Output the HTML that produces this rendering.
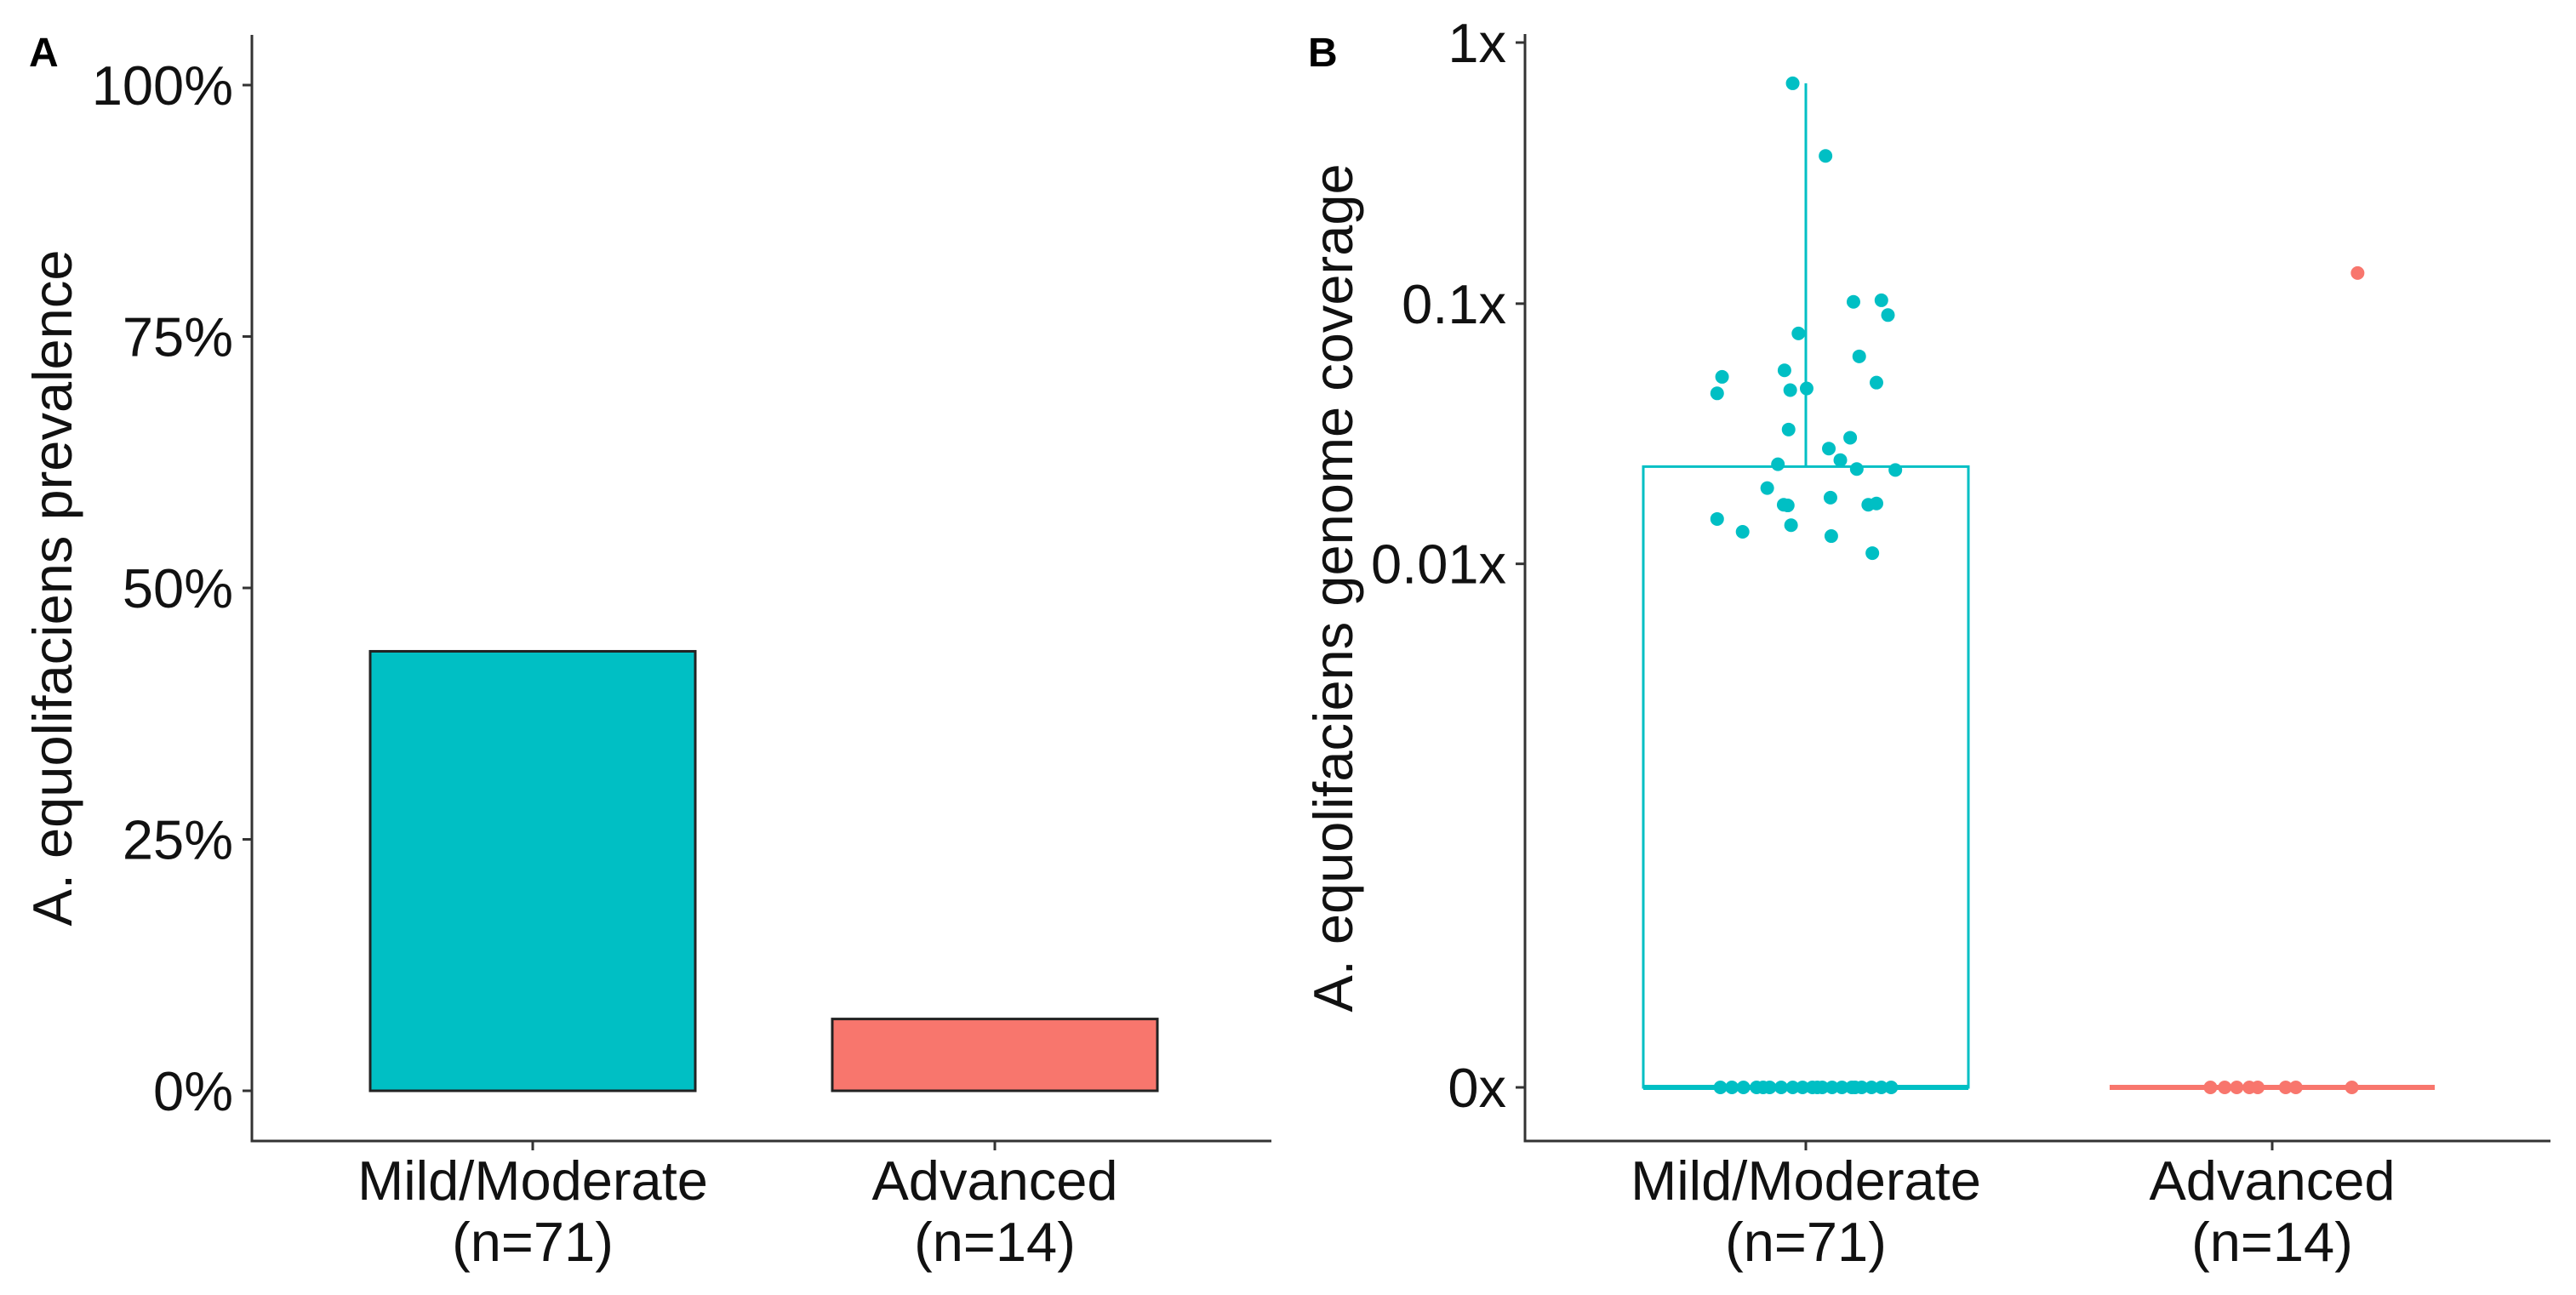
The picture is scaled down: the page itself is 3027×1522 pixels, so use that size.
<!DOCTYPE html>
<html><head><meta charset="utf-8"><style>
html,body{margin:0;padding:0;background:#fff;}
svg{display:block;font-family:"Liberation Sans",Arial,sans-serif;}
</style></head><body>
<svg id="fig" width="3027" height="1522" viewBox="0 0 3027 1522" xmlns="http://www.w3.org/2000/svg">
<g id="pa"></g>
<g id="pb"></g>
</svg>
<script>
const categories = ["Mild/Moderate", "Advanced"];
const sampleSizes = ["(n=71)", "(n=14)"];
const prevalence = [0.437, 0.0714];
const prevTicks = [0, 0.25, 0.5, 0.75, 1];
const prevTickLabels = ["0%", "25%", "50%", "75%", "100%"];
const covTicks = [0, 0.01, 0.1, 1];
const covTickLabels = ["0x", "0.01x", "0.1x", "1x"];
const mildValues = [0.698,0.368,0.1016,0.103,0.0904,0.0769,0.0555,0.0524,0.0628,0.0453,0.0466,0.0473,0.0498,0.0329,0.0306,0.0278,0.0251,0.0242,0.0232,0.0230,0.0196,0.0180,0.0169,0.0168,0.0169,0.0171,0.0149,0.0133,0.0141,0.0128,0.0110,0,0,0,0,0,0,0,0,0,0,0,0,0,0,0,0,0,0,0,0];
const mildJitter = [-0.08,0.12,0.29,0.46,0.5,-0.045,-0.13,-0.51,0.325,-0.54,-0.095,0.005,0.43,-0.105,0.27,0.14,0.21,-0.17,0.31,0.545,-0.235,0.15,-0.135,-0.11,0.38,0.43,-0.54,-0.385,-0.09,0.155,0.405,-0.52,-0.45,-0.38,-0.3,-0.22,-0.15,-0.08,-0.02,0.04,0.1,0.16,0.22,0.28,0.34,0.4,0.46,0.52,-0.26,0.07,0.3];
const mildBox = [0, 0, 0, 0.0237, 0.698];
const advValues = [0.131,0,0,0,0,0,0,0,0];
const advJitter = [0.52,-0.376,-0.289,-0.216,-0.139,-0.088,0.082,0.144,0.485];
const advBox = [0, 0, 0, 0, 0];
const colors = ["#00BFC4", "#F8766D"];

const NS = "http://www.w3.org/2000/svg";
function mk(parent, tag, attrs, text){
  const e = document.createElementNS(NS, tag);
  for (const k in attrs) e.setAttribute(k, attrs[k]);
  if (text !== undefined) e.textContent = text;
  parent.appendChild(e); return e;
}
const FS = 65;
const OFF = 23;

// ---------- Panel A ----------
const pa = document.getElementById('pa');
const A = {x0:296, x1:1494, yTop:41, yBot:1341, band:[626,1169], halfW:191};
const yA = v => 1282 - v * (1282 - 100);
let e;
e = mk(pa,'text',{x:34,y:78,'font-size':48,'font-weight':'bold'},'A');


prevalence.forEach((v,i)=>{
  const r = mk(pa,'rect',{x:A.band[i]-A.halfW,y:yA(v),width:2*A.halfW,height:yA(0)-yA(v),fill:colors[i],stroke:'#222','stroke-width':3});
  
  
});
e = mk(pa,'line',{x1:A.x0,y1:A.yTop,x2:A.x0,y2:A.yBot,stroke:'#333','stroke-width':3});


e = mk(pa,'line',{x1:A.x0-1.5,y1:A.yBot,x2:A.x1,y2:A.yBot,stroke:'#333','stroke-width':3});


prevTicks.forEach((t,i)=>{
  mk(pa,'line',{x1:A.x0-11,y1:yA(t),x2:A.x0,y2:yA(t),stroke:'#333','stroke-width':3});
  const tx = mk(pa,'text',{x:274,y:yA(t)+OFF,'font-size':FS,'text-anchor':'end',fill:'#111'},prevTickLabels[i]);
  
  
});
categories.forEach((c,i)=>{
  mk(pa,'line',{x1:A.band[i],y1:A.yBot,x2:A.band[i],y2:A.yBot+11,stroke:'#333','stroke-width':3});
  const t1 = mk(pa,'text',{x:A.band[i],y:1410,'font-size':FS,'text-anchor':'middle',fill:'#111'},c);
  
  
  const t2 = mk(pa,'text',{x:A.band[i],y:1482,'font-size':FS,'text-anchor':'middle',fill:'#111'},sampleSizes[i]);
  
  
});
e = mk(pa,'text',{x:0,y:0,'font-size':FS,'text-anchor':'middle',fill:'#111',transform:'translate(84,691) rotate(-90)'},'A. equolifaciens prevalence');



// ---------- Panel B ----------
const pb = document.getElementById('pb');
const B = {x0:1792, x1:2997, yTop:40, yBot:1341, band:[2122,2670], halfW:191, jw:193};
const yB = v => 50 + (0 - Math.log10(v + 1e-4)) * 307;
e = mk(pb,'text',{x:1537,y:78,'font-size':48,'font-weight':'bold'},'B');



function boxplot(cx, box, col, name){
  const g = mk(pb,'g',{});
  
  
  const [mn,q1,med,q3,mx] = box;
  mk(g,'line',{x1:cx,y1:yB(q3),x2:cx,y2:yB(mx),stroke:col,'stroke-width':3});
  mk(g,'line',{x1:cx,y1:yB(q1),x2:cx,y2:yB(mn),stroke:col,'stroke-width':3});
  mk(g,'rect',{x:cx-B.halfW,y:yB(q3),width:2*B.halfW,height:Math.max(0,yB(q1)-yB(q3)),fill:'none',stroke:col,'stroke-width':3});
  mk(g,'line',{x1:cx-B.halfW,y1:yB(med),x2:cx+B.halfW,y2:yB(med),stroke:col,'stroke-width':6});
}
boxplot(B.band[0], mildBox, colors[0], 'box-mild-moderate');
boxplot(B.band[1], advBox, colors[1], 'box-advanced');
function points(cx, vals, jit, col, name){
  vals.forEach((v,i)=>{
    const c = mk(pb,'circle',{cx:cx + jit[i]*B.jw, cy:yB(v), r:8, fill:col});
    
    
  });
}
points(B.band[0], mildValues, mildJitter, colors[0], 'point-mild-moderate');
points(B.band[1], advValues, advJitter, colors[1], 'point-advanced');

e = mk(pb,'line',{x1:B.x0,y1:B.yTop,x2:B.x0,y2:B.yBot,stroke:'#333','stroke-width':3});


e = mk(pb,'line',{x1:B.x0-1.5,y1:B.yBot,x2:B.x1,y2:B.yBot,stroke:'#333','stroke-width':3});


covTicks.forEach((t,i)=>{
  mk(pb,'line',{x1:B.x0-11,y1:yB(t),x2:B.x0,y2:yB(t),stroke:'#333','stroke-width':3});
  const tx = mk(pb,'text',{x:1770,y:yB(t)+OFF,'font-size':FS,'text-anchor':'end',fill:'#111'},covTickLabels[i]);
  
  
});
categories.forEach((c,i)=>{
  mk(pb,'line',{x1:B.band[i],y1:B.yBot,x2:B.band[i],y2:B.yBot+11,stroke:'#333','stroke-width':3});
  const t1 = mk(pb,'text',{x:B.band[i],y:1410,'font-size':FS,'text-anchor':'middle',fill:'#111'},c);
  
  
  const t2 = mk(pb,'text',{x:B.band[i],y:1482,'font-size':FS,'text-anchor':'middle',fill:'#111'},sampleSizes[i]);
  
  
});
e = mk(pb,'text',{x:0,y:0,'font-size':FS,'text-anchor':'middle',fill:'#111',transform:'translate(1589,691) rotate(-90)'},'A. equolifaciens genome coverage');


</script>
</body></html>
